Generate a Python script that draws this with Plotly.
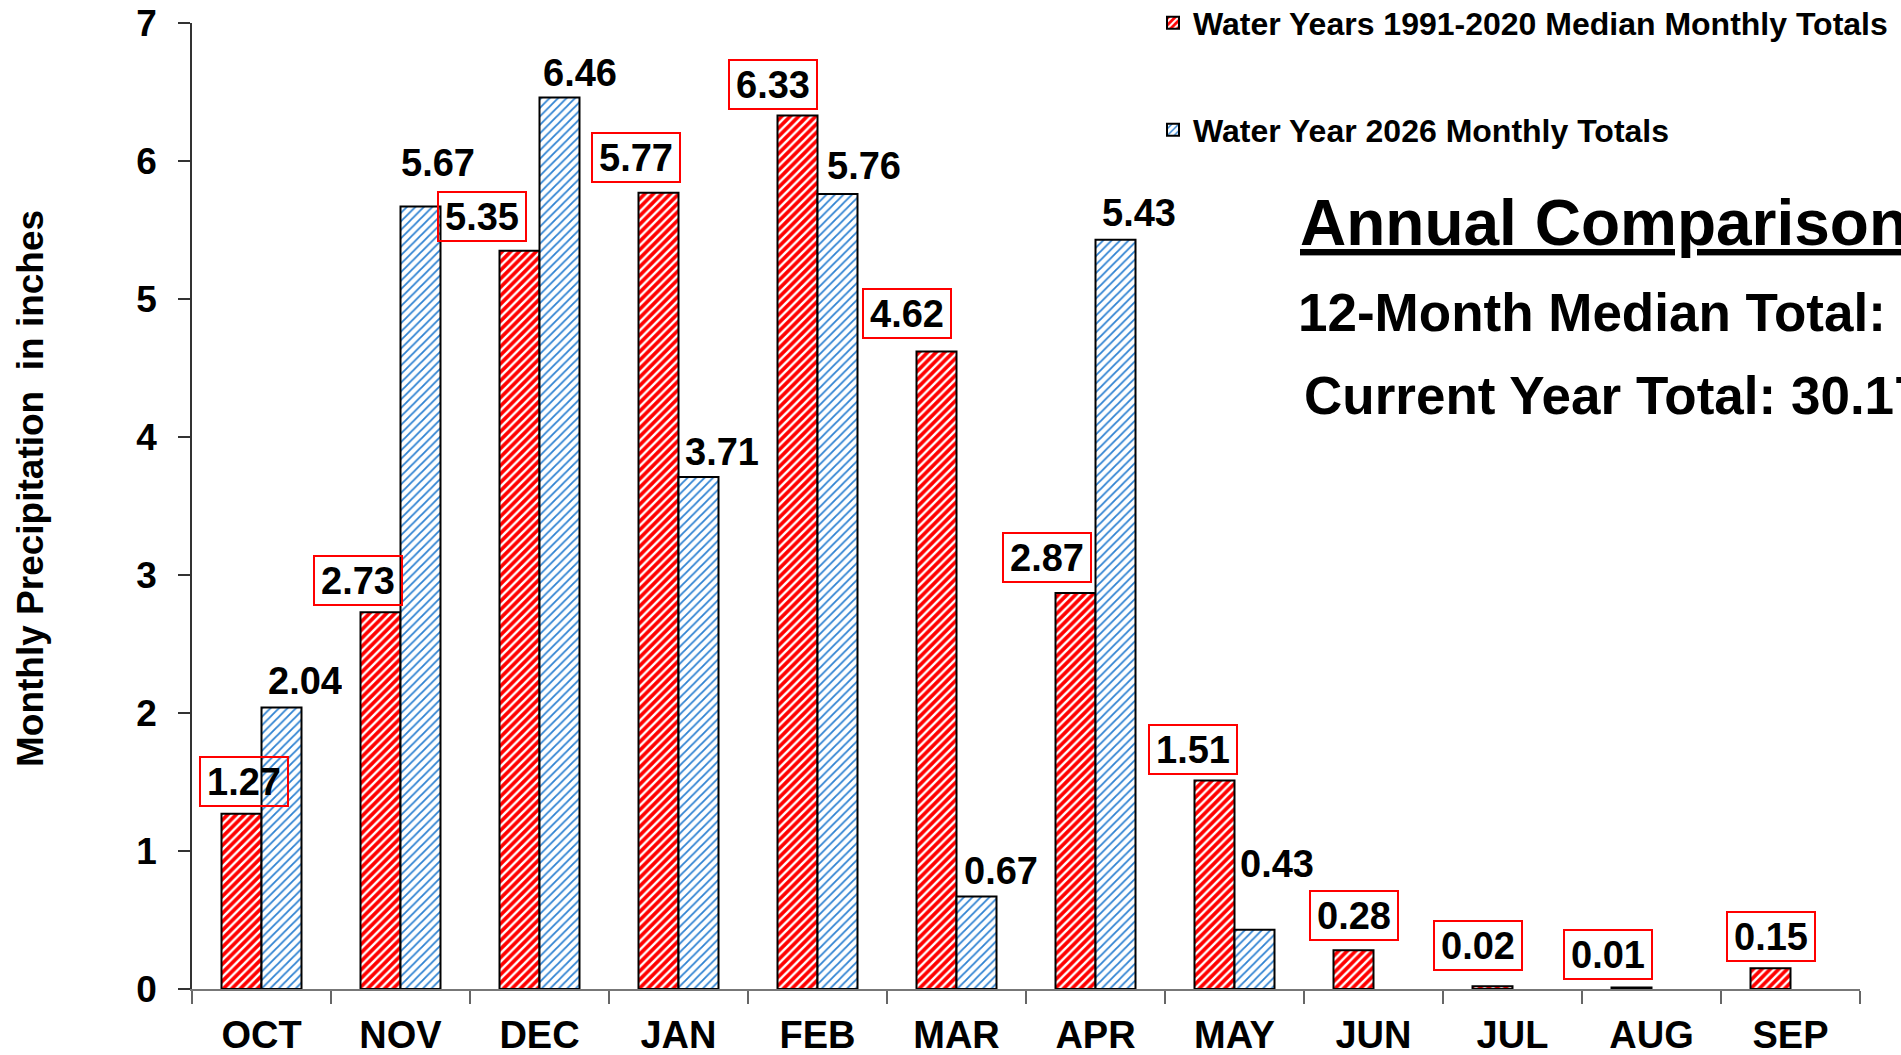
import plotly.graph_objects as go

# ---------------- data ----------------
months = ["OCT", "NOV", "DEC", "JAN", "FEB", "MAR", "APR", "MAY", "JUN", "JUL", "AUG", "SEP"]
median_totals = [1.27, 2.73, 5.35, 5.77, 6.33, 4.62, 2.87, 1.51, 0.28, 0.02, 0.01, 0.15]
wy2026_totals = [2.04, 5.67, 6.46, 3.71, 5.76, 0.67, 5.43, 0.43, None, None, None, None]
y_ticks = [0, 1, 2, 3, 4, 5, 6, 7]
median_name = "Water Years 1991-2020 Median Monthly Totals"
current_name = "Water Year 2026 Monthly Totals"
y_title = "Monthly Precipitation  in inches"

# ---------------- label placement tweaks (pixels) ----------------
median_label_dx = [2.5, -22.5, -38, -23, -25, -30, -29, -22, 0, -14.5, -23.5, 0]
median_label_gap = [7, 6, 9, 10, 5, 12, 10, 6, 9, 15, 8, 6]
current_label_dx = [23.5, 18, 21, 24, 27, 25, 23.5, 23]
current_label_gap = [12, 30, 11, 11, 14, 12, 13, 52]

# ---------------- layout constants ----------------
W, H = 1901, 1055
ML, MR, MT, MB = 192, 41, 23, 66
PLOT_W = W - ML - MR
PLOT_H = H - MT - MB
BARGAP = 0.4245
CAT_W = PLOT_W / len(months)
HALF = CAT_W * (1 - BARGAP) / 4.0  # half width of one bar

FONT = "Arial, Liberation Sans, sans-serif"
RED = "#ff0000"
BLUE = "#2f82d2"

fig = go.Figure()
fig.add_trace(go.Bar(
    x=months, y=median_totals, name=median_name, legend="legend",
    marker=dict(color=RED, line=dict(color="black", width=2),
                pattern=dict(shape="/", bgcolor=RED, fgcolor="white",
                             size=6, solidity=0.4, fillmode="replace")),
))
fig.add_trace(go.Bar(
    x=months, y=wy2026_totals, name=current_name, legend="legend2",
    marker=dict(color="white", line=dict(color="black", width=2),
                pattern=dict(shape="/", bgcolor="white", fgcolor=BLUE,
                             size=6, solidity=0.3, fillmode="replace")),
))

ann = []
for i, v in enumerate(median_totals):
    ann.append(dict(
        x=months[i], y=v, xref="x", yref="y", showarrow=False,
        xanchor="center", yanchor="bottom",
        xshift=-HALF + median_label_dx[i], yshift=median_label_gap[i],
        text=f"{v:.2f}", width=86, height=47, borderpad=0,
        bordercolor=RED, borderwidth=2,
        font=dict(family=FONT, size=38, color="black", weight="bold"),
    ))
for i, v in enumerate(wy2026_totals):
    if v is None:
        continue
    ann.append(dict(
        x=months[i], y=v, xref="x", yref="y", showarrow=False,
        xanchor="center", yanchor="bottom",
        xshift=HALF + current_label_dx[i], yshift=current_label_gap[i] - 10,
        text=f"{v:.2f}", height=47, borderpad=0,
        font=dict(family=FONT, size=38, color="black", weight="bold"),
    ))

# y axis title
ann.append(dict(
    x=0, y=(PLOT_H - (489 - MT)) / PLOT_H, xref="paper", yref="paper",
    xshift=30 - ML, showarrow=False, textangle=-90,
    xanchor="center", yanchor="middle", text=y_title,
    font=dict(family=FONT, size=37, color="black", weight="bold"),
))

median_sum = sum(median_totals)
current_sum = sum(v for v in wy2026_totals if v is not None)
summary = [
    ("<u>Annual Comparison</u>", 1298, 223, 64),
    (f"12-Month Median Total: {median_sum:.2f}", 1296, 312, 53),
    (f"Current Year Total: {current_sum:.2f}", 1302, 396, 53),
]
for txt, px, py, fs in summary:
    ann.append(dict(
        x=(px - ML) / PLOT_W, y=(H - MB - py) / PLOT_H, xref="paper", yref="paper",
        showarrow=False, xanchor="left", yanchor="middle", text=txt,
        font=dict(family=FONT, size=fs, color="black", weight="bold"),
    ))

legend_common = dict(
    xref="container", yref="container", xanchor="left", yanchor="middle",
    bgcolor="rgba(0,0,0,0)", borderwidth=0,
    font=dict(family=FONT, size=32, color="black", weight="bold"),
)

fig.update_layout(
    width=W, height=H,
    margin=dict(l=ML, r=MR, t=MT, b=MB, pad=0, autoexpand=False),
    paper_bgcolor="white", plot_bgcolor="white",
    barmode="group", bargap=BARGAP, bargroupgap=0,
    showlegend=True,
    legend=dict(x=1153 / W, y=1 - 23 / H, **legend_common),
    legend2=dict(x=1153 / W, y=1 - 130 / H, **legend_common),
    annotations=ann,
    xaxis=dict(
        type="category", categoryorder="array", categoryarray=months,
        showline=True, linecolor="#777777", linewidth=2,
        ticks="outside", tickson="boundaries", ticklen=13, tickcolor="#666666", tickwidth=1.5,
        tickfont=dict(family=FONT, size=38, color="black", weight="bold"),
        tickangle=0, ticklabelstandoff=11,
        showgrid=False, zeroline=False, automargin=False,
    ),
    yaxis=dict(
        range=[0, 7], tickvals=y_ticks, ticktext=[str(t) for t in y_ticks],
        showline=True, linecolor="#333333", linewidth=1.5,
        ticks="outside", ticklen=12, tickcolor="#333333", tickwidth=1.5,
        tickfont=dict(family=FONT, size=37, color="black", weight="bold"),
        ticklabelstandoff=14,
        showgrid=False, zeroline=False, automargin=False,
    ),
)

fig.write_html(
    "out.html",
    config={"displayModeBar": False},
    post_script="document.body.style.margin='0';document.body.style.overflow='hidden';",
)
